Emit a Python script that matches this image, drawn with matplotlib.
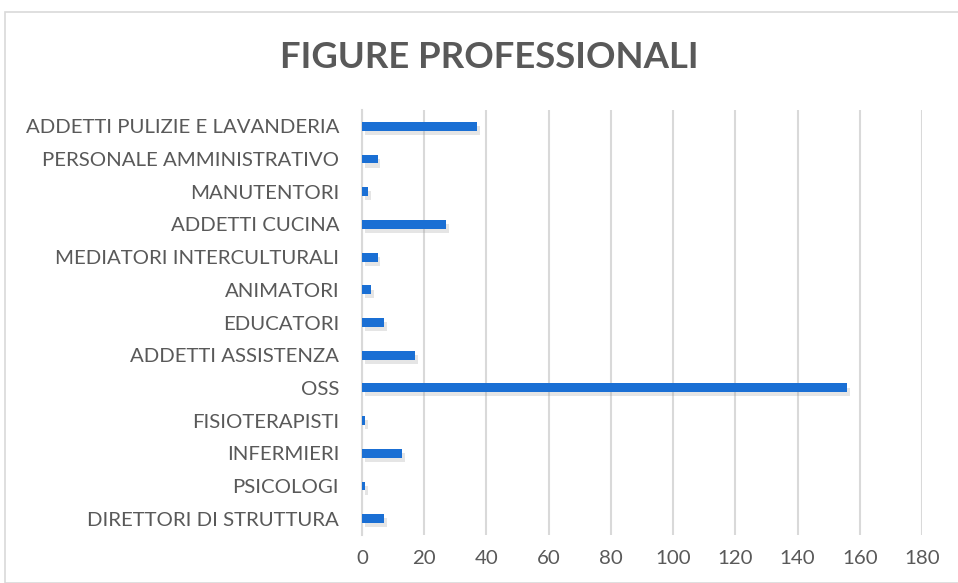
import matplotlib
matplotlib.use("Agg")
import matplotlib.pyplot as plt
import matplotlib.patheffects as pe
from matplotlib.patches import Rectangle

categories = ["DIRETTORI DI STRUTTURA", "PSICOLOGI", "INFERMIERI", "FISIOTERAPISTI", "OSS",
              "ADDETTI ASSISTENZA", "EDUCATORI", "ANIMATORI", "MEDIATORI INTERCULTURALI",
              "ADDETTI CUCINA", "MANUTENTORI", "PERSONALE AMMINISTRATIVO",
              "ADDETTI PULIZIE E LAVANDERIA"]
values = [7, 1, 13, 1, 156, 17, 7, 3, 5, 27, 2, 5, 37]
xticks = [0, 20, 40, 60, 80, 100, 120, 140, 160, 180]
title = "FIGURE PROFESSIONALI"

plt.rcParams['font.family'] = ['Lato', 'DejaVu Sans']
fig = plt.figure(figsize=(9.58, 5.83), dpi=100)
fig.patch.set_facecolor("white")
fig.patches.append(Rectangle((5/958, 0), 1, 1 - 12/583, transform=fig.transFigure,
                             fill=False, edgecolor="#d9d9d9", linewidth=1.2))

ax = fig.add_axes([362/958, 1 - 535/583, 560/958, 425/583])
bars = ax.barh(range(len(categories)), values, height=0.27, color="#1a6fd4", zorder=3)
for b in bars:
    b.set_path_effects([pe.SimplePatchShadow(offset=(2, -3), shadow_rgbFace="#9a9a9a", alpha=0.25), pe.Normal()])
ax.set_xlim(0, 180)
ax.set_ylim(-0.5, len(categories) - 0.5)
ax.set_xticks(xticks)
ax.set_yticks(range(len(categories)))
ax.set_yticklabels(categories)
ax.grid(axis="x", color="#d9d9d9", linewidth=1.5, zorder=0)
for s in ["top", "right", "bottom"]:
    ax.spines[s].set_visible(False)
ax.spines["left"].set_color("#d9d9d9")
ax.spines["left"].set_linewidth(1.5)
ax.tick_params(axis="both", length=0, labelsize=14.7, colors="#595959")
ax.tick_params(axis="y", pad=16.5)
ax.tick_params(axis="x", pad=11)
fig.text(489/958, 1 - 58/583, title, ha="center", va="center", fontsize=26.3,
         fontweight="bold", color="#595959")
fig.savefig("out.png", dpi=100)
